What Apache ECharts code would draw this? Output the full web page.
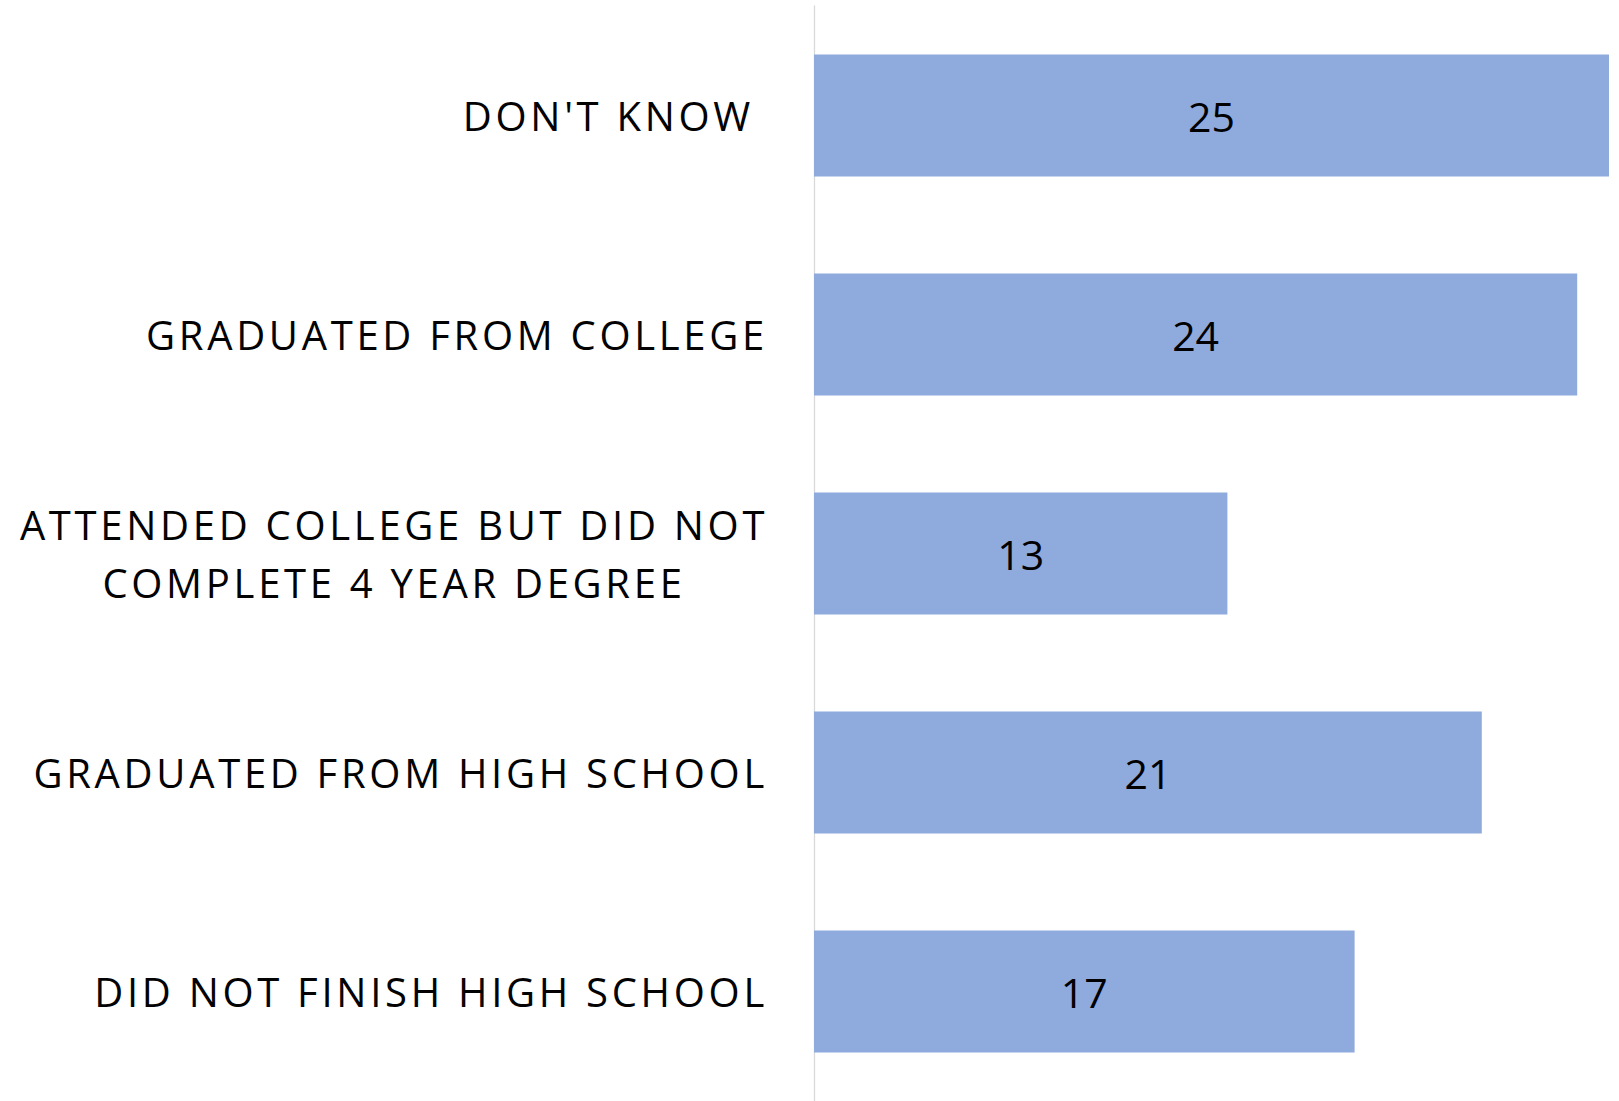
<!DOCTYPE html>
<html>
<head>
<meta charset="utf-8">
<script src="https://cdn.jsdelivr.net/npm/echarts@6/dist/echarts.min.js"></script>
<style>
  html, body { margin: 0; padding: 0; background: #fff; }
  #chart { width: 1619px; height: 1101px; }
  /* spaced capitals for the category labels only */
  #chart text[fill="#020202"] { letter-spacing: 3.7px; }
</style>
</head>
<body>
<div id="chart"></div>
<script>
const categories = [
  "DON'T KNOW ",
  'GRADUATED FROM COLLEGE',
  'ATTENDED COLLEGE BUT DID NOT\nCOMPLETE 4 YEAR DEGREE',
  'GRADUATED FROM HIGH SCHOOL',
  'DID NOT FINISH HIGH SCHOOL'
]
const values = [25, 24, 13, 21, 17]

const chart = echarts.init(document.getElementById('chart'), null, { renderer: 'svg' })
chart.setOption({
  animation: false,
  grid: { left: 814, right: 10, top: 6, bottom: -1 },
  xAxis: { type: 'value', min: 0, max: 25, show: false },
  yAxis: {
    type: 'category', inverse: true, data: categories,
    axisLine: { lineStyle: { color: '#d9d9d9', width: 1.3 } },
    axisTick: { show: false },
    axisLabel: {
      margin: 46, color: '#020202', fontSize: 40, fontFamily: 'Open Sans', lineHeight: 58,
      formatter: v => v.includes('\n') ? v.split('\n').map(s => `{c|${s}}`).join('\n') : v,
      rich: { c: { width: 748, align: 'center', color: '#020202', fontSize: 40, fontFamily: 'Open Sans', lineHeight: 58 } }
    }
  },
  series: [{
    type: 'bar', data: values, barWidth: 122,
    itemStyle: { color: '#8faadc' },
    label: { show: true, position: 'inside', color: '#000', fontSize: 41, fontFamily: 'Open Sans' }
  }]
})
</script>
</body>
</html>
